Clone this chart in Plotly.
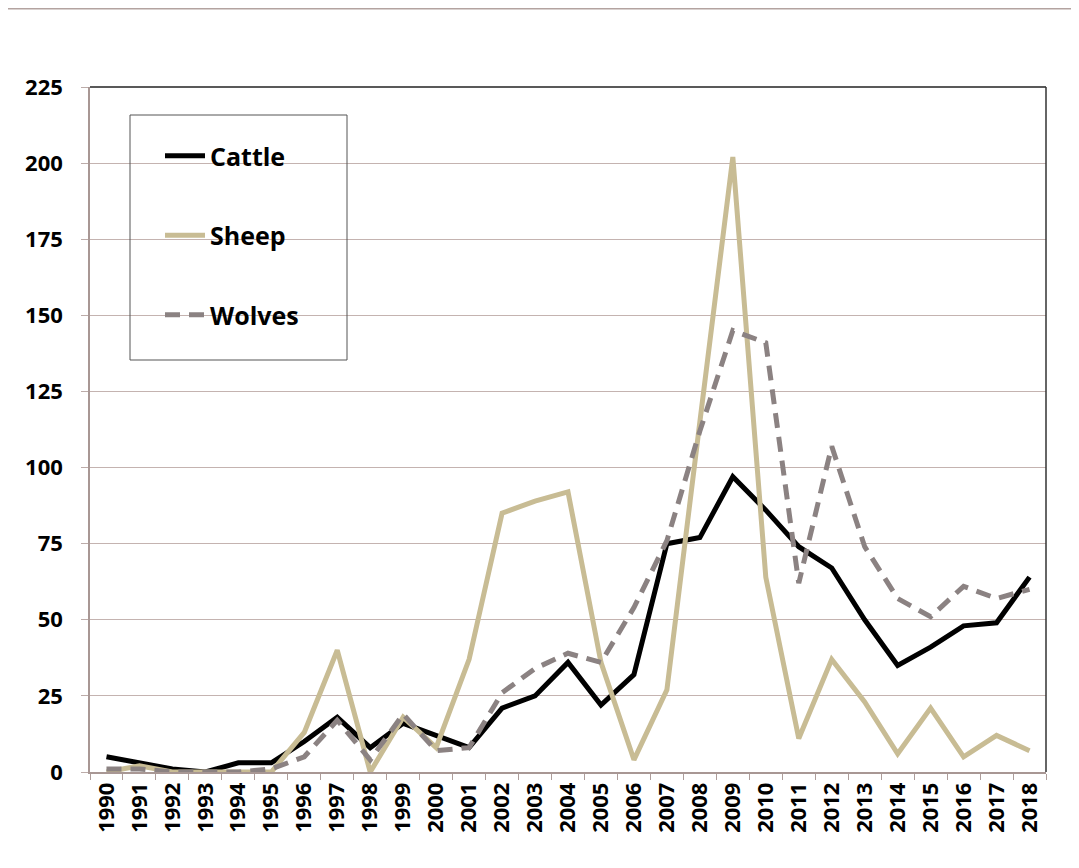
import plotly.graph_objects as go

years = [str(y) for y in range(1990, 2019)]
cattle = [5, 3, 1, 0, 3, 3, 10, 18, 8, 16, 12, 8, 21, 25, 36, 22, 32, 75, 77, 97, 86, 74, 67, 50, 35, 41, 48, 49, 64]
sheep = [0, 2, 0, 0, 0, 0, 13, 40, 0, 18, 8, 37, 85, 89, 92, 36, 4, 27, 115, 202, 64, 11, 37, 23, 6, 21, 5, 12, 7]
wolves = [1, 1, 0, 0, 0, 1, 5, 17, 4, 19, 7, 8, 26, 34, 39, 36, 54, 76, 112, 145, 141, 62, 107, 74, 57, 51, 61, 57, 60]
y_ticks = [0, 25, 50, 75, 100, 125, 150, 175, 200, 225]

W, H = 1079, 868
OFF = 8  # page body margin
L, R, T, B = 90 - OFF, 1046 - OFF, 87 - OFF, 772 - OFF

fig = go.Figure()
fig.add_trace(go.Scatter(x=years, y=cattle, mode="lines", name="Cattle", legendgroup="c",
                         line=dict(color="#000000", width=5)))
fig.add_trace(go.Scatter(x=years, y=sheep, mode="lines", name="Sheep", legendgroup="s",
                         line=dict(color="#c8bc94", width=5)))
fig.add_trace(go.Scatter(x=years, y=wolves, mode="lines", name="Wolves", legendgroup="w",
                         line=dict(color="#8b8282", width=5, dash="15px,9px")))

def fx(x):
    return (x - OFF - L) / (R - L)

def fy(y):
    return (B - (y - OFF)) / (B - T)

shapes = [
    # thin rule at top of the page
    dict(type="line", xref="paper", yref="paper", x0=fx(0), x1=fx(W + 20),
         y0=fy(8.5), y1=fy(8.5), line=dict(color="#b3a3a0", width=2)),
    # plot area top and right borders
    dict(type="line", xref="paper", yref="paper", x0=0, x1=1, y0=1, y1=1,
         line=dict(color="#222222", width=1.5)),
    dict(type="line", xref="paper", yref="paper", x0=1, x1=1, y0=0, y1=1,
         line=dict(color="#333333", width=1.5)),
    # legend box
    dict(type="rect", xref="paper", yref="paper",
         x0=fx(130), x1=fx(347), y0=fy(360), y1=fy(115),
         line=dict(color="#555555", width=1), fillcolor="rgba(0,0,0,0)"),
]

fig.update_layout(
    width=W, height=H,
    margin=dict(l=L, r=W - R, t=T, b=H - B, pad=0),
    paper_bgcolor="white", plot_bgcolor="white",
    font=dict(family="Open Sans", color="black"),
    showlegend=True,
    legend=dict(
        x=fx(160), y=fy(133), xanchor="left", yanchor="top",
        bgcolor="rgba(0,0,0,0)", borderwidth=0,
        font=dict(family="Open Sans", size=25, weight=700, color="black"),
        tracegroupgap=44, itemwidth=40,
    ),
    shapes=shapes,
    xaxis=dict(
        type="category", tickangle=-90, tickson="boundaries",
        ticks="outside", ticklen=6, tickcolor="#ad9d9a", tickwidth=1,
        showline=True, linecolor="#a89794", linewidth=1.5,
        showgrid=False, zeroline=False,
        tickfont=dict(family="Open Sans", size=22, weight=700, color="black"),
        range=[-0.5, 28.5],
    ),
    yaxis=dict(
        range=[0, 225], tickvals=y_ticks, ticktext=[str(v) for v in y_ticks],
        ticks="outside", ticklen=7, tickcolor="#bcaca9", tickwidth=1,
        showline=True, linecolor="#a89794", linewidth=1.5,
        showgrid=True, gridcolor="#c4b3b0", gridwidth=1.2,
        zeroline=False,
        tickfont=dict(family="Open Sans", size=22, weight=700, color="black"),
        ticklabelstandoff=14,
    ),
)

fig.write_html("out.html")
